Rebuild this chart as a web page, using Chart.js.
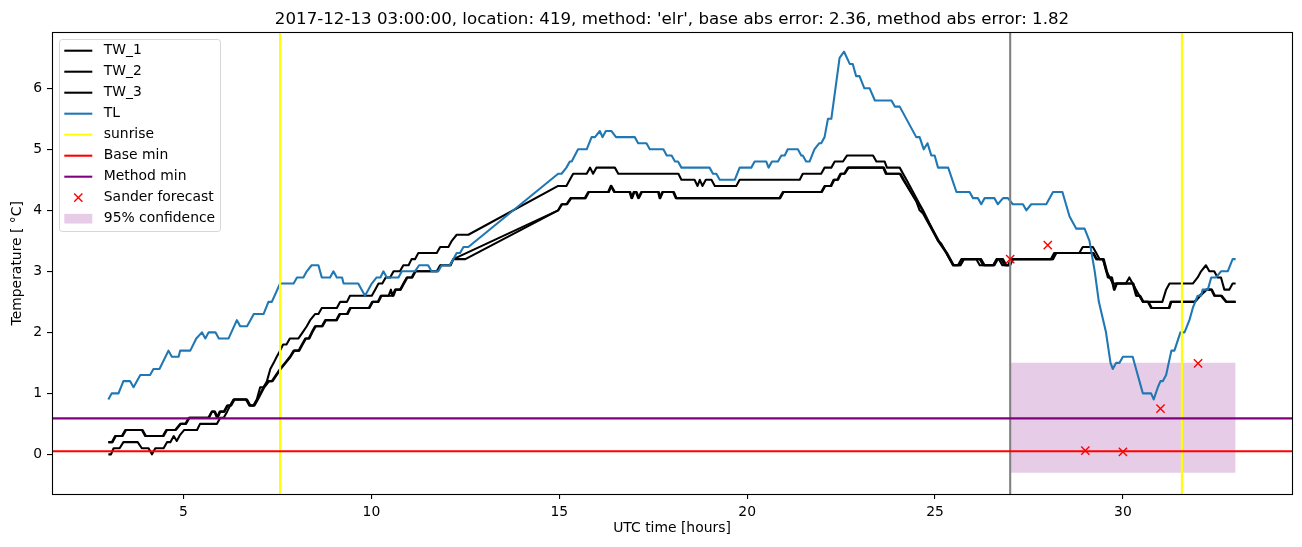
<!DOCTYPE html>
<html>
<head>
<meta charset="utf-8">
<script src="https://cdn.jsdelivr.net/npm/chart.js@4/dist/chart.umd.min.js"></script>
<style>
    html, body { margin: 0; padding: 0; background: #fff; }
    canvas { display: block; }
</style>
</head>
<body>
<canvas id="chart" width="1302" height="547"></canvas>
<script>
// axis limits and ticks
var hourRange = [1.5, 34.5];
var tempRange = [-0.65, 6.915];
var hourTicks = [5, 10, 15, 20, 25, 30];
var tempTicks = [0, 1, 2, 3, 4, 5, 6];

// reference lines
var sunriseHours = [7.57, 31.57];
var nowHour = 27.0;
var baseMin = 0.05;
var methodMin = 0.59;

// forecast and its band
var sanderHours = [27, 28, 29, 30, 31, 32];
var sanderTemp = [3.2, 3.43, 0.06, 0.04, 0.75, 1.49];
var confHours = [27.0, 33.0];
var confLow = -0.3;
var confHigh = 1.5;

// measured series, [hour, temperature] at each corner of the trace
var TW_1 = [
    [3.00,0.0],[3.07,0.0],[3.14,0.1],[3.30,0.1],[3.40,0.2],[3.78,0.2],[3.89,0.1],[4.07,0.1],[4.16,0.0],[4.25,0.1],
    [4.47,0.1],[4.56,0.2],[4.65,0.2],[4.74,0.3],[4.82,0.22],[4.91,0.32],[5.02,0.4],[5.36,0.4],[5.44,0.5],[5.89,0.5],
    [5.98,0.6],[6.07,0.6],[6.16,0.7],[6.24,0.8],[6.33,0.9],[6.68,0.9],[6.77,0.8],[6.86,0.8],[6.95,0.9],[7.04,1.1],
    [7.13,1.1],[7.22,1.2],[7.31,1.4],[7.40,1.5],[7.48,1.6],[7.57,1.7],[7.65,1.8],[7.74,1.8],[7.83,1.9],[8.06,1.9],
    [8.17,2.0],[8.28,2.1],[8.37,2.2],[8.50,2.3],[8.59,2.3],[8.68,2.4],[9.08,2.4],[9.17,2.5],[9.35,2.5],[9.43,2.6],
    [10.01,2.6],[10.10,2.7],[10.19,2.8],[10.29,2.8],[10.38,2.9],[10.50,2.9],[10.59,3.0],[10.76,3.0],[10.85,3.1],[10.99,3.1],
    [11.07,3.2],[11.16,3.2],[11.25,3.3],[11.74,3.3],[11.83,3.4],[12.05,3.4],[12.14,3.5],[12.27,3.6],[12.58,3.6],
    [14.97,4.4],[15.19,4.4],[15.28,4.5],[15.37,4.6],[15.73,4.6],[15.82,4.7],[15.90,4.6],[15.99,4.7],[16.48,4.7],[16.57,4.6],
    [18.17,4.6],[18.25,4.5],[18.60,4.5],[18.68,4.4],[18.74,4.5],[18.81,4.4],[18.90,4.5],[19.05,4.5],[19.14,4.4],[19.71,4.4],
    [19.80,4.5],[21.40,4.5],[21.48,4.6],[21.97,4.6],[22.06,4.7],[22.24,4.7],[22.33,4.8],[22.55,4.8],[22.66,4.9],[23.35,4.9],
    [23.44,4.8],[23.66,4.8],[23.72,4.7],[24.06,4.7],[24.15,4.6],[24.24,4.5],[24.59,4.1],[24.68,4.0],[25.08,3.5],[25.17,3.45],
    [25.30,3.3],[25.48,3.1],[25.61,3.1],[25.70,3.2],[26.10,3.2],[26.19,3.1],[26.55,3.1],[26.64,3.2],[26.81,3.2],[26.90,3.1],
    [26.98,3.1],[27.07,3.2],[28.08,3.2],[28.17,3.3],[28.84,3.3],[28.93,3.4],[29.20,3.4],[29.29,3.3],[29.38,3.2],[29.47,3.2],
    [29.56,3.0],[29.65,2.9],[29.73,2.8],[30.08,2.8],[30.17,2.9],[30.26,2.8],[30.35,2.7],[30.44,2.6],[30.53,2.5],[31.05,2.5],
    [31.15,2.7],[31.24,2.8],[31.86,2.8],[31.99,2.9],[32.08,3.0],[32.21,3.1],[32.30,3.0],[32.43,3.0],[32.52,2.9],[32.61,2.9],
    [32.70,2.7],[32.83,2.7],[32.92,2.8],[33.00,2.8]
];

var TW_2 = [
    [3.00,0.2],[3.09,0.2],[3.18,0.3],[3.36,0.3],[3.45,0.4],[3.89,0.4],[3.98,0.3],[4.47,0.3],[4.56,0.4],[4.78,0.4],
    [4.91,0.5],[5.05,0.5],[5.14,0.6],[5.66,0.6],[5.75,0.7],[5.82,0.7],[5.89,0.6],[5.96,0.7],[6.07,0.7],[6.16,0.8],
    [6.25,0.8],[6.34,0.9],[6.69,0.9],[6.78,0.8],[6.87,0.8],[6.96,0.9],[7.13,1.1],[7.26,1.2],[7.35,1.2],[7.57,1.4],
    [7.70,1.5],[7.83,1.6],[7.93,1.7],[8.06,1.7],[8.15,1.8],[8.24,1.9],[8.33,1.9],[8.41,2.0],[8.50,2.1],[8.68,2.1],
    [8.77,2.2],[9.08,2.2],[9.17,2.3],[9.35,2.3],[9.43,2.4],[9.93,2.4],[10.02,2.5],[10.17,2.5],[10.25,2.6],[10.46,2.6],
    [10.52,2.7],[10.56,2.6],[10.63,2.7],[10.76,2.7],[10.85,2.8],[10.94,2.9],[11.07,2.9],[11.16,3.0],[11.74,3.0],[11.83,3.1],
    [12.09,3.1],[12.18,3.2],[12.50,3.2],
    [14.97,4.0],[15.06,4.1],[15.19,4.1],[15.30,4.2],[15.68,4.2],[15.77,4.3],[16.30,4.3],[16.37,4.4],[16.46,4.3],[16.87,4.3],
    [16.92,4.2],[16.98,4.3],[17.04,4.3],[17.10,4.2],[17.18,4.3],[17.63,4.3],[17.67,4.2],[17.74,4.3],[18.03,4.3],[18.10,4.2],
    [20.86,4.2],[20.95,4.3],[21.97,4.3],[22.06,4.4],[22.22,4.4],[22.30,4.5],[22.40,4.5],[22.48,4.6],[22.58,4.6],[22.68,4.7],
    [23.62,4.7],[23.69,4.6],[24.06,4.6],[24.15,4.5],[24.50,4.15],[24.59,4.0],[24.68,3.95],[25.08,3.5],[25.30,3.3],[25.48,3.1],
    [25.66,3.1],[25.75,3.2],[26.23,3.2],[26.32,3.1],[26.58,3.1],[26.67,3.2],[26.76,3.2],[26.85,3.1],[27.00,3.1],[27.07,3.2],
    [28.14,3.2],[28.23,3.3],[29.20,3.3],[29.29,3.2],[29.47,3.2],[29.60,2.9],[29.69,2.9],[29.76,2.7],[29.82,2.8],[30.26,2.8],
    [30.35,2.6],[30.44,2.6],[30.53,2.5],[30.66,2.5],[30.75,2.4],[31.24,2.4],[31.29,2.5],[31.90,2.5],[32.04,2.6],[32.21,2.7],
    [32.35,2.7],[32.43,2.6],[32.61,2.6],[32.74,2.5],[33.00,2.5]
];

var TW_3 = [
    [3.00,0.2],[3.11,0.2],[3.20,0.3],[3.38,0.3],[3.47,0.4],[3.91,0.4],[4.00,0.3],[4.45,0.3],[4.54,0.4],[4.80,0.4],
    [4.93,0.5],[5.07,0.5],[5.16,0.6],[5.68,0.6],[5.76,0.7],[5.84,0.7],[5.91,0.6],[5.98,0.7],[6.09,0.7],[6.18,0.8],
    [6.27,0.8],[6.36,0.9],[6.66,0.9],[6.75,0.8],[6.89,0.8],[6.98,0.9],[7.15,1.1],[7.28,1.2],[7.37,1.2],[7.59,1.4],
    [7.72,1.5],[7.85,1.6],[7.95,1.7],[8.08,1.7],[8.17,1.8],[8.26,1.9],[8.35,1.9],[8.43,2.0],[8.52,2.1],[8.70,2.1],
    [8.79,2.2],[9.06,2.2],[9.15,2.3],[9.37,2.3],[9.45,2.4],[9.95,2.4],[10.04,2.5],[10.19,2.5],[10.27,2.6],[10.59,2.6],
    [10.65,2.7],[10.78,2.7],[10.87,2.8],[10.96,2.9],[11.09,2.9],[11.18,3.0],[11.76,3.0],[11.85,3.1],[12.11,3.1],[12.18,3.2],
    [14.97,4.0],[15.08,4.1],[15.21,4.1],[15.32,4.2],[15.70,4.2],[15.79,4.3],[16.32,4.3],[16.39,4.4],[16.48,4.3],[16.89,4.3],
    [16.94,4.2],[17.00,4.3],[17.06,4.3],[17.12,4.2],[17.20,4.3],[17.65,4.3],[17.69,4.2],[17.76,4.3],[18.05,4.3],[18.12,4.2],
    [20.88,4.2],[20.97,4.3],[21.99,4.3],[22.08,4.4],[22.24,4.4],[22.32,4.5],[22.42,4.5],[22.50,4.6],[22.60,4.6],[22.70,4.7],
    [23.64,4.7],[23.71,4.6],[24.08,4.6],[24.17,4.5],[24.55,4.1],[24.62,4.05],[24.70,3.95],[25.10,3.5],[25.32,3.3],[25.50,3.1],
    [25.68,3.1],[25.77,3.2],[26.19,3.2],[26.28,3.1],[26.55,3.1],[26.64,3.2],[26.70,3.2],[26.79,3.1],[26.94,3.1],[27.03,3.2],
    [28.12,3.2],[28.21,3.3],[29.22,3.3],[29.31,3.2],[29.49,3.2],[29.62,2.9],[29.71,2.9],[29.78,2.7],[29.84,2.8],[30.28,2.8],
    [30.37,2.6],[30.46,2.6],[30.55,2.5],[30.68,2.5],[30.77,2.4],[31.22,2.4],[31.27,2.5],[31.92,2.5],[32.06,2.6],[32.23,2.7],
    [32.37,2.7],[32.45,2.6],[32.63,2.6],[32.76,2.5],[33.00,2.5]
];

var TL = [
    [3.00,0.9],[3.09,1.0],[3.27,1.0],[3.40,1.2],[3.58,1.2],[3.67,1.1],[3.85,1.3],[4.11,1.3],[4.20,1.4],[4.36,1.4],
    [4.60,1.7],[4.69,1.6],[4.87,1.6],[4.91,1.7],[5.18,1.7],[5.34,1.9],[5.49,2.0],[5.58,1.9],[5.67,2.0],[5.85,2.0],
    [5.94,1.9],[6.20,1.9],[6.42,2.2],[6.51,2.1],[6.69,2.1],[6.78,2.2],[6.87,2.3],[7.13,2.3],[7.26,2.5],[7.35,2.5],
    [7.57,2.8],[7.93,2.8],[8.02,2.9],[8.19,2.9],[8.28,3.0],[8.41,3.1],[8.59,3.1],[8.68,2.9],[8.90,2.9],[8.99,3.0],
    [9.08,2.9],[9.22,2.9],[9.26,2.8],[9.65,2.8],[9.83,2.6],[10.01,2.8],[10.14,2.9],[10.24,2.9],[10.32,3.0],[10.41,2.9],
    [10.72,2.9],[10.81,3.0],[11.16,3.0],[11.27,3.1],[11.51,3.1],[11.60,3.0],[11.78,3.0],[11.87,3.1],[12.09,3.1],[12.18,3.2],
    [12.27,3.3],[12.36,3.3],[12.45,3.4],[12.58,3.4],
    [14.97,4.6],[15.06,4.6],[15.19,4.7],[15.28,4.8],[15.33,4.8],[15.50,5.0],[15.73,5.0],[15.86,5.2],[15.95,5.2],[16.08,5.3],
    [16.15,5.2],[16.24,5.3],[16.39,5.3],[16.51,5.2],[17.01,5.2],[17.10,5.1],[17.32,5.1],[17.41,5.0],[17.77,5.0],[17.86,4.9],
    [17.99,4.9],[18.08,4.8],[18.16,4.8],[18.25,4.7],[19.00,4.7],[19.09,4.6],[19.18,4.6],[19.27,4.5],[19.67,4.5],[19.80,4.7],
    [20.11,4.7],[20.20,4.8],[20.51,4.8],[20.57,4.7],[20.66,4.8],[20.82,4.8],[20.91,4.9],[21.00,4.9],[21.08,5.0],[21.35,5.0],
    [21.44,4.9],[21.48,4.9],[21.57,4.8],[21.66,4.8],[21.79,5.0],[21.92,5.1],[21.97,5.1],[22.06,5.2],[22.15,5.5],[22.24,5.5],
    [22.46,6.5],[22.58,6.6],[22.73,6.4],[22.81,6.4],[22.90,6.2],[22.99,6.2],[23.12,6.0],[23.26,6.0],[23.40,5.8],[23.84,5.8],
    [23.93,5.7],[24.06,5.7],[24.50,5.2],[24.59,5.2],[24.70,5.0],[24.80,5.1],[24.90,4.9],[24.99,4.9],[25.08,4.7],[25.35,4.7],
    [25.57,4.3],[25.92,4.3],[26.01,4.2],[26.14,4.2],[26.23,4.1],[26.32,4.2],[26.58,4.2],[26.67,4.1],[26.81,4.2],[26.94,4.2],
    [27.07,4.1],[27.34,4.1],[27.43,4.0],[27.56,4.1],[27.96,4.1],[28.14,4.3],[28.39,4.3],[28.58,3.9],[28.76,3.7],[28.98,3.7],
    [29.11,3.5],[29.25,3.0],[29.36,2.5],[29.55,2.0],[29.67,1.5],[29.73,1.4],[29.82,1.5],[29.91,1.5],[30.00,1.6],[30.26,1.6],
    [30.35,1.4],[30.44,1.2],[30.53,1.0],[30.75,1.0],[30.82,0.9],[30.93,1.1],[31.00,1.2],[31.06,1.2],[31.15,1.3],[31.29,1.7],
    [31.37,1.7],[31.53,2.0],[31.64,2.0],[31.77,2.2],[31.86,2.4],[31.99,2.6],[32.08,2.6],[32.12,2.7],[32.26,2.7],[32.35,2.9],
    [32.48,2.9],[32.61,3.0],[32.79,3.0],[32.92,3.2],[33.00,3.2]
];

var FONT = "'DejaVu Sans', sans-serif";
var LW = 2.08;

Chart.defaults.font.family = FONT;
Chart.defaults.font.size = 13.9;
Chart.defaults.color = '#000';

function toPoints(pairs) {
    return pairs.map(function (p) { return { x: p[0], y: p[1] }; });
}

function lineSet(label, pairs, color, order, legendKind) {
    return {
        label: label,
        data: toPoints(pairs),
        borderColor: color,
        backgroundColor: color,
        borderWidth: LW,
        borderJoinStyle: 'round',
        pointRadius: 0,
        tension: 0,
        fill: false,
        clip: 0,
        order: order,
        legendKind: legendKind
    };
}

function vline(x) { return [[x, tempRange[0]], [x, tempRange[1]]]; }
function hline(y) { return [[hourRange[0], y], [hourRange[1], y]]; }

var datasets = [
    lineSet('TW_1', TW_1, '#000000', 90, 'line'),
    lineSet('TW_2', TW_2, '#000000', 89, 'line'),
    lineSet('TW_3', TW_3, '#000000', 88, 'line'),
    lineSet('TL', TL, '#1f77b4', 87, 'line'),
    lineSet('sunrise', vline(sunriseHours[0]), '#ffff00', 85, 'line'),
    lineSet('Base min', hline(baseMin), '#ff0000', 84, 'line'),
    lineSet('Method min', hline(methodMin), '#800080', 83, 'line'),
    {
        label: 'Sander forecast',
        data: sanderHours.map(function (h, i) { return { x: h, y: sanderTemp[i] }; }),
        showLine: false,
        pointStyle: 'crossRot',
        pointRadius: 5.8,
        pointBorderColor: '#ff0000',
        pointBackgroundColor: '#ff0000',
        pointBorderWidth: 1.4,
        borderColor: '#ff0000',
        clip: 0,
        order: 80,
        legendKind: 'marker'
    },
    {
        label: '95% confidence',
        data: [{ x: confHours[0], y: confHigh }, { x: confHours[1], y: confHigh }],
        borderColor: 'rgba(0,0,0,0)',
        borderWidth: 0,
        backgroundColor: 'rgba(128,0,128,0.2)',
        pointRadius: 0,
        fill: { value: confLow },
        clip: 0,
        order: 100,
        legendKind: 'patch'
    },
    lineSet('sunrise 2', vline(sunriseHours[1]), '#ffff00', 85, null),
    lineSet('now', vline(nowHour), '#808080', 86, null)
];

// axes box on all four sides
var framePlugin = {
    id: 'frame',
    afterDatasetsDraw: function (chart) {
        var a = chart.chartArea, ctx = chart.ctx;
        var l = Math.floor(a.left) + 0.5, t = Math.floor(a.top) + 0.5;
        var r = Math.floor(a.right) + 0.5, b = Math.floor(a.bottom) + 0.5;
        ctx.save();
        ctx.strokeStyle = '#000';
        ctx.lineWidth = 1.1;
        ctx.strokeRect(l, t, r - l, b - t);
        ctx.restore();
    }
};

var titlePlugin = {
    id: 'mplTitle',
    afterDraw: function (chart) {
        var a = chart.chartArea, ctx = chart.ctx;
        ctx.save();
        ctx.font = '16.67px ' + FONT;
        ctx.fillStyle = '#000';
        ctx.textAlign = 'center';
        ctx.textBaseline = 'alphabetic';
        ctx.fillText("2017-12-13 03:00:00, location: 419, method: 'elr', base abs error: 2.36, method abs error: 1.82",
            (a.left + a.right) / 2, 24.3);
        ctx.restore();
    }
};

var legendPlugin = {
    id: 'mplLegend',
    afterDraw: function (chart) {
        var ctx = chart.ctx;
        var items = chart.data.datasets.filter(function (d) { return d.legendKind; });
        var bx = 59.5, by = 39.5, bw = 161, bh = 192, rad = 2.8;
        var rowY = 50.7, rowStep = 21.0, hx0 = 64.3, hx1 = 92.3, tx = 103.8;

        ctx.save();
        ctx.beginPath();
        ctx.moveTo(bx + rad, by);
        ctx.arcTo(bx + bw, by, bx + bw, by + bh, rad);
        ctx.arcTo(bx + bw, by + bh, bx, by + bh, rad);
        ctx.arcTo(bx, by + bh, bx, by, rad);
        ctx.arcTo(bx, by, bx + bw, by, rad);
        ctx.closePath();
        ctx.fillStyle = 'rgba(255,255,255,0.8)';
        ctx.fill();
        ctx.strokeStyle = 'rgba(204,204,204,0.8)';
        ctx.lineWidth = 1;
        ctx.stroke();

        ctx.font = '13.9px ' + FONT;
        ctx.textAlign = 'left';
        ctx.textBaseline = 'middle';
        items.forEach(function (d, i) {
            var y = rowY + i * rowStep;
            if (d.legendKind === 'line') {
                ctx.strokeStyle = d.borderColor;
                ctx.lineWidth = LW;
                ctx.beginPath();
                ctx.moveTo(hx0, y);
                ctx.lineTo(hx1, y);
                ctx.stroke();
            } else if (d.legendKind === 'marker') {
                var cx = (hx0 + hx1) / 2, s = 4.1;
                ctx.strokeStyle = d.pointBorderColor;
                ctx.lineWidth = d.pointBorderWidth;
                ctx.beginPath();
                ctx.moveTo(cx - s, y - s); ctx.lineTo(cx + s, y + s);
                ctx.moveTo(cx - s, y + s); ctx.lineTo(cx + s, y - s);
                ctx.stroke();
            } else if (d.legendKind === 'patch') {
                ctx.fillStyle = d.backgroundColor;
                ctx.fillRect(hx0, y - 4.85, hx1 - hx0, 9.7);
            }
            ctx.fillStyle = '#000';
            ctx.fillText(d.label, tx, y);
        });
        ctx.restore();
    }
};

var tickGrid = {
    drawOnChartArea: false,
    drawTicks: true,
    tickLength: 5,
    color: '#000',
    tickColor: '#000',
    lineWidth: 1.1
};

new Chart(document.getElementById('chart'), {
    type: 'line',
    data: { datasets: datasets },
    options: {
        responsive: false,
        animation: false,
        events: [],
        layout: { padding: { top: 32.5, right: 10, bottom: 0, left: 0 } },
        plugins: {
            legend: { display: false },
            tooltip: { enabled: false },
            title: { display: false }
        },
        scales: {
            x: {
                type: 'linear',
                min: hourRange[0],
                max: hourRange[1],
                bounds: 'data',
                afterFit: function (s) { s.height = 53; },
                afterBuildTicks: function (s) {
                    s.ticks = hourTicks.map(function (v) { return { value: v }; });
                },
                ticks: { padding: 5, maxRotation: 0, autoSkip: false },
                grid: tickGrid,
                border: { display: false },
                title: {
                    display: true,
                    text: 'UTC time [hours]',
                    padding: { top: 0, bottom: 10 }
                }
            },
            y: {
                type: 'linear',
                min: tempRange[0],
                max: tempRange[1],
                bounds: 'data',
                afterFit: function (s) { s.width = 52; },
                afterBuildTicks: function (s) {
                    s.ticks = tempTicks.map(function (v) { return { value: v }; });
                },
                ticks: { padding: 5, autoSkip: false },
                grid: tickGrid,
                border: { display: false },
                title: {
                    display: true,
                    text: 'Temperature [ °C]',
                    padding: { top: 9, bottom: 0 }
                }
            }
        }
    },
    plugins: [framePlugin, titlePlugin, legendPlugin]
});
</script>
</body>
</html>
